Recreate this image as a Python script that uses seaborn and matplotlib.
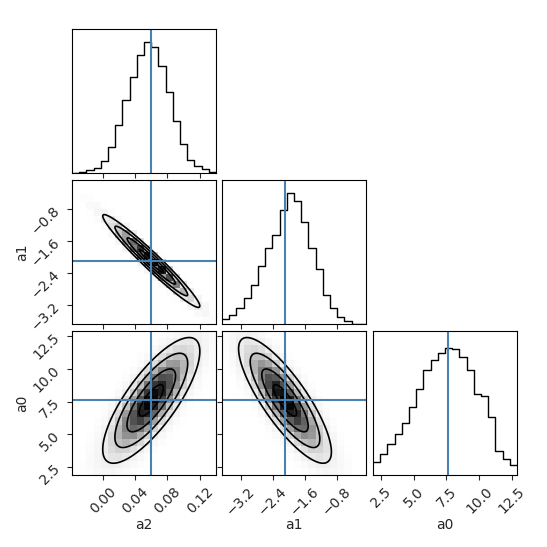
import numpy as np
import matplotlib
matplotlib.use("Agg")
import matplotlib.pyplot as plt
import seaborn as sns

names = ["a2", "a1", "a0"]
ranges = [(-0.038, 0.14), (-3.675, -0.075), (1.9, 12.9)]
ticks = [[0.00, 0.04, 0.08, 0.12], [-3.2, -2.4, -1.6, -0.8], [2.5, 5.0, 7.5, 10.0, 12.5]]
ticklabels = [["0.00", "0.04", "0.08", "0.12"], ["−3.2", "−2.4", "−1.6", "−0.8"],
              ["2.5", "5.0", "7.5", "10.0", "12.5"]]
truths = [0.06, -2.1, 7.6]
stds = [0.03, 0.58, 2.4]
corr = {(1, 0): -0.97, (2, 0): 0.78, (2, 1): -0.82}
hist_a2 = [0, 0.01, 0.02, 0.04, 0.09, 0.2, 0.37, 0.56, 0.73, 0.9, 1.0, 0.96, 0.82, 0.62, 0.4, 0.22, 0.1, 0.05, 0.03, 0.01]
hist_a1 = [0.04, 0.07, 0.12, 0.2, 0.3, 0.44, 0.58, 0.68, 0.87, 1.0, 0.94, 0.78, 0.58, 0.42, 0.22, 0.12, 0.05, 0.02, 0.0, 0.0]
hist_a0 = [0.1, 0.16, 0.24, 0.31, 0.4, 0.52, 0.66, 0.8, 0.88, 0.93, 0.97, 0.96, 0.9, 0.8, 0.62, 0.6, 0.44, 0.18, 0.12, 0.08]
hists = [hist_a2, hist_a1, hist_a0]

sns.set_style("ticks")
plt.rcParams['font.family'] = ['DejaVu Sans']
fig = plt.figure(figsize=(5.47, 5.47), dpi=100)
lefts = [72/547, 222/547, 373/547]
bottoms = [1-173/547, 1-324/547, 1-475/547]
w = 144/547
blue = "#4682b4"

for i in range(3):
    for j in range(i+1):
        ax = fig.add_axes([lefts[j], bottoms[i], w, w])
        lo, hi = ranges[j]
        edges = np.linspace(lo, hi, 21)
        if i == j:
            centers = 0.5*(edges[1:]+edges[:-1])
            sns.histplot(x=centers, weights=np.array(hists[i], float), bins=20, binrange=(lo, hi),
                         element="step", fill=False, color="black", ax=ax, linewidth=1)
            ax.set_ylim(0, 1.1)
            ax.set_yticks([])
            ax.set_ylabel("")
            ax.axvline(truths[j], color=blue)
        else:
            ylo, yhi = ranges[i]
            ye = np.linspace(ylo, yhi, 21)
            xc = 0.5*(edges[1:]+edges[:-1]); yc = 0.5*(ye[1:]+ye[:-1])
            X, Y = np.meshgrid(xc, yc)
            r = corr[(i, j)]
            u = (X-truths[j])/stds[j]; v = (Y-truths[i])/stds[i]
            q = (u*u - 2*r*u*v + v*v)/(1-r*r)
            D = np.exp(-0.5*q)
            sns.histplot(x=X.ravel(), y=Y.ravel(), weights=D.ravel(), bins=20,
                         binrange=[(lo, hi), (ylo, yhi)], thresh=0.01,
                         cmap="Greys", vmin=0.0, vmax=1.0, ax=ax, cbar=False)
            xf = np.linspace(lo, hi, 200); yf = np.linspace(ylo, yhi, 200)
            XF, YF = np.meshgrid(xf, yf)
            uf = (XF-truths[j])/stds[j]; vf = (YF-truths[i])/stds[i]
            qf = (uf*uf - 2*r*uf*vf + vf*vf)/(1-r*r)
            levels = [0.5**2, 1.0**2, 1.5**2, 2.0**2]
            ax.contour(XF, YF, qf, levels=levels, colors="black", linewidths=1.2)
            ax.set_ylim(ylo, yhi)
            ax.axvline(truths[j], color=blue)
            ax.axhline(truths[i], color=blue)
        ax.set_xlim(lo, hi)
        ax.set_xticks(ticks[j])
        if i < 2:
            ax.set_xticklabels([])
            ax.set_xlabel("")
        else:
            ax.set_xticklabels(ticklabels[j], rotation=45)
            ax.set_xlabel(names[j])
            ax.xaxis.set_label_coords(0.5, -0.3)
        if i != j:
            ax.set_yticks(ticks[i])
            if j == 0:
                ax.set_yticklabels(ticklabels[i], rotation=45)
                ax.set_ylabel(names[i])
                ax.yaxis.set_label_coords(-0.3, 0.5)
            else:
                ax.set_yticklabels([])
                ax.set_ylabel("")
        ax.tick_params(labelsize=10)
        for s in ax.spines.values():
            s.set_visible(True)
            s.set_color("black")

fig.savefig("out.png", dpi=100)
